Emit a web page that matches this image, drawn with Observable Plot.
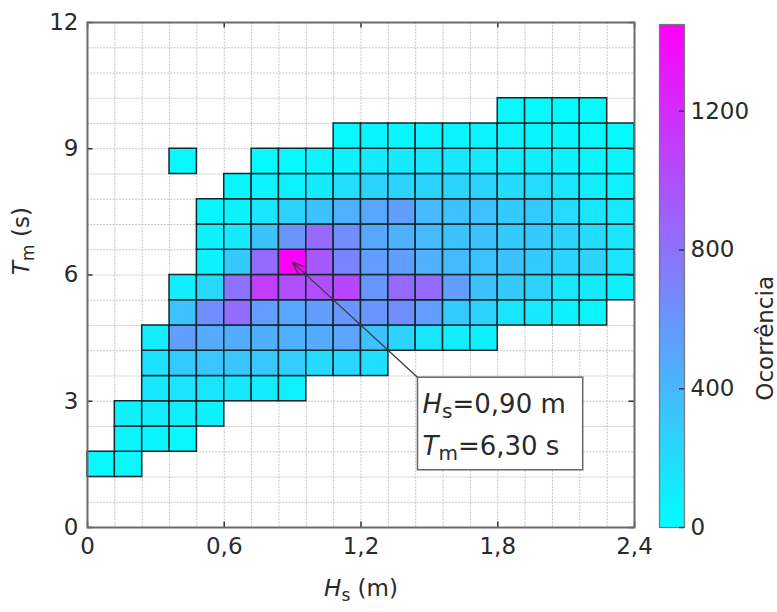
<!DOCTYPE html>
<html><head><meta charset="utf-8">
<script src="https://cdn.jsdelivr.net/npm/d3@7"></script>
<script src="https://cdn.jsdelivr.net/npm/@observablehq/plot@0.6"></script>
<style>
body{margin:0;background:#fff;}
#wrap{position:relative;width:777px;height:612px;overflow:hidden;}
#wrap svg{position:absolute;top:0;}
</style></head><body><div id="wrap"></div>
<script>
// ---- data ----
const hsEdges = [0,0.12,0.24,0.36,0.48,0.6,0.72,0.84,0.96,1.08,1.2,1.32,1.44,1.56,1.68,1.8,1.92,2.04,2.16,2.28,2.4];
const tmEdges = [0,0.6,1.2,1.8,2.4,3.0,3.6,4.2,4.8,5.4,6.0,6.6,7.2,7.8,8.4,9.0,9.6,10.2,10.8,11.4,12];
const xTicks = [0,0.6,1.2,1.8,2.4];
const xTickLabels = ["0","0,6","1,2","1,8","2,4"];
const yTicks = [0,3,6,9,12];
const cbTicks = [0,400,800,1200];
// lower Tm edge of each occupied row, first Hs bin (lower edge) of that row, and occurrences
const rowTm      = [1.2, 1.8, 2.4, 3.0, 3.6, 4.2, 4.8, 5.4, 6.0, 6.6, 7.2, 7.8, 8.4, 9.0, 9.6];
const rowFirstHs = [0,   0.12,0.12,0.24,0.24,0.24,0.36,0.36,0.48,0.48,0.48,0.6, 0.36,1.08,1.8];
const rowCounts = [
  [30, 40],
  [60, 50, 40],
  [80, 100, 90, 70],
  [140, 160, 150, 130, 110, 90],
  [170, 300, 330, 330, 320, 280, 210, 230, 190],
  [100, 550, 480, 470, 460, 450, 480, 520, 350, 250, 150, 100, 90],
  [350, 650, 850, 560, 500, 550, 600, 600, 650, 550, 300, 250, 150, 120, 80, 60],
  [100, 220, 800, 1100, 1000, 1000, 1050, 600, 850, 850, 550, 350, 300, 250, 150, 120, 80],
  [80, 300, 850, 1450, 950, 700, 550, 550, 450, 400, 350, 350, 300, 250, 250, 150],
  [80, 120, 350, 600, 850, 650, 500, 450, 400, 350, 350, 300, 300, 250, 200, 150],
  [50, 70, 150, 250, 350, 450, 500, 550, 400, 350, 350, 300, 300, 200, 150, 120],
  [50, 60, 80, 120, 180, 250, 250, 250, 250, 250, 200, 200, 150, 100, 80],
  [40, null, null, 30, 40, 60, 80, 120, 120, 130, 130, 120, 100, 100, 80, 60, 50],
  [40, 50, 50, 60, 60, 60, 60, 50, 50, 40, 30],
  [30, 30, 30, 30]
];
const peak = [{hs: 0.90, tm: 6.30}];
const boxCorner = [{hs: 1.45, tm: 3.56}];
const labelBox = [{hs1: 1.45, hs2: 2.175, tm1: 1.36, tm2: 3.56}];
const annotationLines = [
  {hs: 1.47, tm: 2.93, label: "H|s|=0,90 m"},
  {hs: 1.47, tm: 1.93, label: "T|m|=6,30 s"}
];
const xTitle = ["H|s| (m)"];
const yTitle = ["T|m| (s)"];
const cbTitle = ["Ocorrência"];

// ---- build cells ----
const cells = [];
rowCounts.forEach((vals, r) => {
  const start = hsEdges.indexOf(rowFirstHs[r]);
  const ti = tmEdges.indexOf(rowTm[r]);
  vals.forEach((v, k) => {
    if (v == null) return;
    cells.push({x1: hsEdges[start + k], x2: hsEdges[start + k + 1], y1: tmEdges[ti], y2: tmEdges[ti + 1], v});
  });
});

const FONT = "DejaVu Sans, Verdana, sans-serif";
const color = {type: "linear", domain: [0, 1450], range: ["#00ffff", "#ff00ff"], interpolate: "rgb"};
const gridStyle = {stroke: "#c6c6c6", strokeWidth: 1, strokeDasharray: "2,1.2"};

const main = Plot.plot({
  width: 777, height: 612,
  marginTop: 22, marginRight: 143, marginBottom: 85, marginLeft: 87,
  style: {fontFamily: FONT, fontSize: "23px", color: "#2a2a2a", background: "transparent", overflow: "visible"},
  x: {domain: [0, 2.4], label: null},
  y: {domain: [0, 12], label: null},
  color,
  marks: [
    Plot.ruleX(hsEdges, gridStyle),
    Plot.ruleY(tmEdges, gridStyle),
    Plot.rect(cells, {x1: "x1", x2: "x2", y1: "y1", y2: "y2", fill: "v", stroke: "#0e2a2a", strokeWidth: 1.5}),
    Plot.ruleX(xTicks, {y1: 0, y2: 0.13, stroke: "#333", strokeWidth: 1.5}),
    Plot.ruleX(xTicks, {y1: 11.87, y2: 12, stroke: "#333", strokeWidth: 1.5}),
    Plot.ruleY(yTicks, {x1: 0, x2: 0.024, stroke: "#333", strokeWidth: 1.5}),
    Plot.ruleY(yTicks, {x1: 2.376, x2: 2.4, stroke: "#333", strokeWidth: 1.5}),
    Plot.axisX(xTicks, {tickSize: 0, tickPadding: 10, label: null, tickFormat: d => xTickLabels[xTicks.indexOf(d)]}),
    Plot.axisY(yTicks, {tickSize: 0, tickPadding: 9, label: null, tickFormat: d => String(d)}),
    Plot.frame({stroke: "#6a6a6a", strokeWidth: 2}),
    Plot.arrow([0], {x1: boxCorner[0].hs, y1: boxCorner[0].tm, x2: peak[0].hs, y2: peak[0].tm, stroke: "#3a3a3a", strokeWidth: 1.3, headLength: 14, headAngle: 45}),
    Plot.rect(labelBox, {x1: "hs1", x2: "hs2", y1: "tm1", y2: "tm2", fill: "white", stroke: "#666", strokeWidth: 1.5}),
    Plot.text(annotationLines, {x: "hs", y: "tm", text: "label", textAnchor: "start", fill: "#2a2a2a", fontSize: 26}),
    Plot.text(xTitle, {frameAnchor: "bottom", dy: 68, fill: "#2a2a2a"}),
    Plot.text(yTitle, {frameAnchor: "left", dx: -66, rotate: -90, fill: "#2a2a2a"})
  ]
});

const bar = Plot.plot({
  width: 137, height: 612,
  marginTop: 24, marginBottom: 85, marginLeft: 19, marginRight: 93,
  style: {fontFamily: FONT, fontSize: "23px", color: "#2a2a2a", background: "transparent", overflow: "visible"},
  x: {domain: [0, 1], axis: null},
  y: {domain: [0, 1450], label: null},
  color,
  marks: [
    Plot.raster({x1: 0, x2: 1, y1: 0, y2: 1450, width: 1, height: 300, fill: (x, y) => y, imageRendering: "auto"}),
    Plot.frame({stroke: "#777", strokeWidth: 1.2}),
    Plot.ruleY(cbTicks, {x1: 0.8, x2: 1, stroke: "#333", strokeWidth: 1.5}),
    Plot.axisY(cbTicks, {anchor: "right", tickSize: 0, tickPadding: 6, label: null, tickFormat: d => String(d)}),
    Plot.text(cbTitle, {frameAnchor: "right", dx: 81, rotate: -90, fill: "#2a2a2a"})
  ]
});

function richify(svg) {
  d3.select(svg).selectAll("text").each(function () {
    const t = this.textContent;
    if (!t.includes("|")) return;
    const [a, b, c] = t.split("|");
    const fs = parseFloat(getComputedStyle(this).fontSize) || 23;
    const el = d3.select(this);
    el.selectAll("*").remove();
    el.text(null);
    el.append("tspan").attr("font-style", "italic").text(a);
    el.append("tspan").attr("font-size", Math.round(fs * 0.75) + "px").attr("dy", "5").text(b);
    el.append("tspan").attr("dy", "-5").text(c);
  });
}

const wrap = document.getElementById("wrap");
main.style.left = "0px";
bar.style.left = "640px";
wrap.appendChild(main);
wrap.appendChild(bar);
richify(main);
</script></body></html>
